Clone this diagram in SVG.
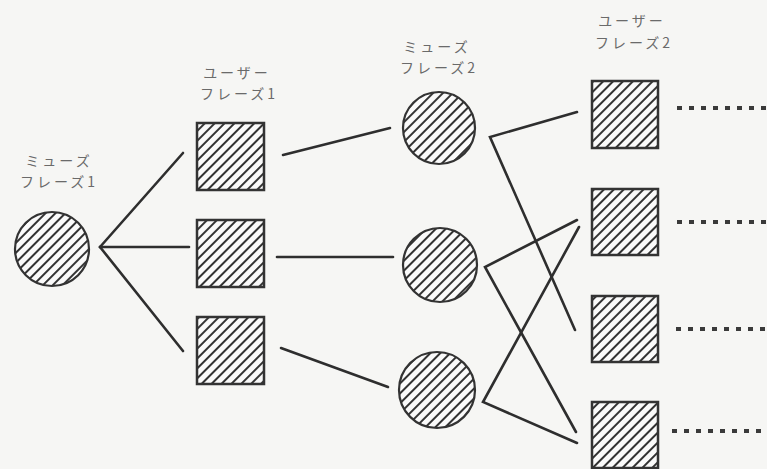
<svg xmlns="http://www.w3.org/2000/svg" width="767" height="469" viewBox="0 0 767 469">
<style>
.lbl{font-family:"Noto Sans CJK JP","Noto Sans",sans-serif;font-size:14px;fill:#6a6a6a;text-anchor:middle;letter-spacing:3px}
.sq{fill:url(#hatch);stroke:#333;stroke-width:2.5}
.ci{fill:url(#hatch);stroke:#333;stroke-width:2.2}
.ln{stroke:#2e2e2e;stroke-width:2.6;fill:none;stroke-linecap:round}
.dot{stroke:#3a3a3a;stroke-width:4;stroke-dasharray:5 7;fill:none}
</style>
<defs>
<pattern id="hatch" patternUnits="userSpaceOnUse" width="7" height="7" patternTransform="rotate(45)">
<rect width="7" height="7" fill="#fafafa"/>
<line x1="1" y1="0" x2="1" y2="7" stroke="#333" stroke-width="2"/>
</pattern>
</defs>
<rect width="767" height="469" fill="#f6f6f4"/>
<g id="connectors">
<line class="ln" x1="100" y1="247" x2="183" y2="153"/>
<line class="ln" x1="100" y1="247" x2="189" y2="247"/>
<line class="ln" x1="100" y1="247" x2="183" y2="351"/>
<line class="ln" x1="283" y1="155" x2="390" y2="128"/>
<line class="ln" x1="277" y1="257" x2="393" y2="257"/>
<line class="ln" x1="281" y1="348" x2="388" y2="387"/>
<polyline class="ln" points="577,112 490,137 575,330"/>
<polyline class="ln" points="577,220 485,267 576,432"/>
<polyline class="ln" points="579,227 483,402 577,443"/>
<line class="dot" x1="677" y1="108" x2="767" y2="108"/>
<line class="dot" x1="677" y1="222" x2="767" y2="222"/>
<line class="dot" x1="676" y1="329" x2="767" y2="329"/>
<line class="dot" x1="672" y1="431" x2="767" y2="431"/>
</g>
<g id="muse1">
<text class="lbl" x="59" y="166">ミューズ</text>
<text class="lbl" x="59" y="187">フレーズ1</text>
<circle class="ci" cx="52" cy="249" r="37"/>
</g>
<g id="user1">
<text class="lbl" x="237" y="78">ユーザー</text>
<text class="lbl" x="239" y="99">フレーズ1</text>
<rect class="sq" x="197" y="123" width="67" height="67"/>
<rect class="sq" x="197" y="220" width="67" height="67"/>
<rect class="sq" x="197" y="317" width="67" height="67"/>
</g>
<g id="muse2">
<text class="lbl" x="437" y="52">ミューズ</text>
<text class="lbl" x="439" y="73">フレーズ2</text>
<circle class="ci" cx="439" cy="128" r="36"/>
<circle class="ci" cx="440" cy="265" r="37"/>
<circle class="ci" cx="437" cy="390" r="38"/>
</g>
<g id="user2">
<text class="lbl" x="632" y="26">ユーザー</text>
<text class="lbl" x="634" y="48">フレーズ2</text>
<rect class="sq" x="592" y="81" width="66" height="67"/>
<rect class="sq" x="592" y="189" width="66" height="66"/>
<rect class="sq" x="592" y="296" width="66" height="66"/>
<rect class="sq" x="592" y="402" width="66" height="66"/>
</g>
</svg>
